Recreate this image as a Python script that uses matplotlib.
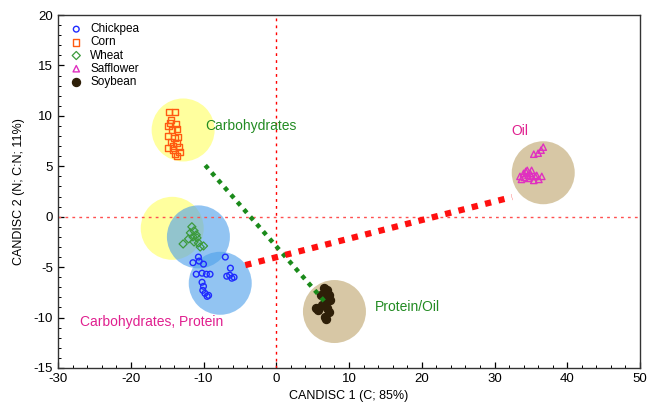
import matplotlib
matplotlib.use("Agg")
import matplotlib.pyplot as plt
from matplotlib.patches import Ellipse
from matplotlib.ticker import MultipleLocator

plt.rcParams["font.family"] = ["Liberation Sans", "DejaVu Sans"]
plt.rcParams["axes.unicode_minus"] = False

# ---- data ----
chickpea_x = [-11.45, -10.7, -10.0, -11.0, -10.2, -9.6, -9.1, -10.2, -10.0, -9.8, -9.3,
              -6.3, -6.4, -6.1, -7.0, -10.1, -9.5, -6.8, -5.8, -10.6]
chickpea_y = [-4.56, -4.0, -4.7, -5.7, -5.6, -5.7, -5.7, -6.5, -6.9, -7.6, -7.8,
              -5.1, -5.8, -6.1, -4.0, -7.3, -7.9, -5.9, -6.0, -4.4]
corn_x = [-14.7, -13.9, -14.5, -14.8, -14.3, -13.6, -14.9, -14.0, -13.5, -14.5, -13.7,
          -14.9, -14.2, -13.4, -13.9, -13.3, -14.6, -13.8, -14.2, -13.6]
corn_y = [10.4, 10.4, 9.6, 9.0, 8.6, 8.7, 8.0, 7.8, 7.9, 7.4, 7.3,
          6.8, 6.6, 6.9, 6.2, 6.4, 9.3, 9.2, 7.0, 6.0]
wheat_x = [-11.6, -11.3, -11.8, -11.0, -11.45, -10.9, -12.05, -12.8, -11.3, -10.7, -10.45, -10.0]
wheat_y = [-1.0, -1.4, -1.6, -1.8, -2.0, -2.1, -2.2, -2.7, -2.5, -2.6, -3.0, -2.9]
safflower_x = [35.4, 36.0, 36.4, 36.7, 33.5, 34.0, 34.3, 34.6, 34.9, 35.1, 34.1, 34.7,
               35.6, 36.1, 35.4, 33.7, 34.5, 35.1, 35.8, 36.5]
safflower_y = [6.2, 6.3, 6.6, 6.9, 4.0, 4.3, 4.5, 4.1, 4.3, 4.0, 3.9, 3.8,
               4.0, 3.7, 3.6, 3.7, 4.6, 4.6, 4.1, 4.0]
soybean_x = [6.5, 7.0, 6.2, 7.2, 6.7, 7.4, 6.3, 5.4, 5.8, 7.0, 7.2, 6.7, 6.8]
soybean_y = [-7.1, -7.3, -7.8, -7.8, -8.3, -8.3, -8.75, -9.1, -9.25, -9.1, -9.4, -9.9, -10.1]

# group shading circles (centres)
circle_x = [-12.8, -14.3, -10.7, -7.7, 8.0, 36.7]
circle_y = [8.6, -1.15, -2.0, -6.6, -9.4, 4.36]
circle_kind = ["yellow", "yellow", "blue", "blue", "tan", "tan"]

# loading vectors
green_line_x = [-9.76, 6.7]
green_line_y = [5.1, -8.45]
red_line_x = [-4.26, 32.4]
red_line_y = [-4.8, 1.95]

# annotations
ann_text = ["Carbohydrates", "Oil", "Protein/Oil", "Carbohydrates, Protein"]
ann_x = [-9.76, 32.3, 13.6, -27.0]
ann_y = [9.0, 8.5, -9.0, -10.4]
ann_color = ["#228B22", "#e0208f", "#228B22", "#e0208f"]

# ---- figure ----
W, H = 649, 408
fig = plt.figure(figsize=(W / 100, H / 100), dpi=100)
ax = fig.add_axes([58 / W, 40 / H, 582 / W, 353 / H])
ax.set_xlim(-30, 50)
ax.set_ylim(-15, 20)

# pixel scale for circles
px_x = 582 / 80.0
px_y = 353 / 35.0
r_px = 31.5
fills = {"yellow": (1.0, 1.0, 0.39), "blue": (0.31, 0.63, 0.92), "tan": (0.75, 0.65, 0.43)}
for cx, cy, k in zip(circle_x, circle_y, circle_kind):
    e = Ellipse((cx, cy), 2 * r_px / px_x, 2 * r_px / px_y, facecolor=fills[k],
                edgecolor="none", alpha=0.62, zorder=1)
    ax.add_patch(e)

# reference lines
ax.axvline(0, color="red", lw=1.0, ls=(0, (2, 3)), zorder=2)
ax.axhline(0, color="#ff5050", lw=1.0, ls=(0, (2, 3)), zorder=2)

ms = 17
ax.scatter(chickpea_x, chickpea_y, s=ms, marker="o", facecolors="none",
           edgecolors="#1f2bff", linewidths=1.0, zorder=4, label="Chickpea")
ax.scatter(corn_x, corn_y, s=ms + 4, marker="s", facecolors="none",
           edgecolors="#ff5a10", linewidths=1.0, zorder=4, label="Corn")
ax.scatter(wheat_x, wheat_y, s=ms, marker="D", facecolors="none",
           edgecolors="#3c9a3c", linewidths=0.9, zorder=4, label="Wheat")
ax.scatter(safflower_x, safflower_y, s=ms + 4, marker="^", facecolors="none",
           edgecolors="#e030c0", linewidths=1.0, zorder=4, label="Safflower")
ax.scatter(soybean_x, soybean_y, s=ms + 16, marker="o", facecolors="#2e1f08",
           edgecolors="#2e1f08", linewidths=1.0, zorder=4, label="Soybean")

# loading vectors
ax.plot(green_line_x, green_line_y, color="#1a8a1a", lw=3.2, ls=(0, (1, 1.2)),
        zorder=5, solid_capstyle="butt")
ax.plot(red_line_x, red_line_y, color="#ff1010", lw=4.5, ls=(0, (1, 1.2)),
        zorder=5)

for t, x, y, c in zip(ann_text, ann_x, ann_y, ann_color):
    ax.text(x, y, t, color=c, fontsize=10, va="center", ha="left", zorder=6)

# axes styling
ax.xaxis.set_major_locator(MultipleLocator(10))
ax.xaxis.set_minor_locator(MultipleLocator(2))
ax.yaxis.set_major_locator(MultipleLocator(5))
ax.yaxis.set_minor_locator(MultipleLocator(1))
ax.tick_params(which="both", direction="in", top=False, right=False, labelsize=9.5,
               colors="black")
ax.tick_params(which="major", length=4, width=0.9)
ax.tick_params(which="minor", length=2, width=0.7)
for s in ax.spines.values():
    s.set_color("#333333")
    s.set_linewidth(1.0)

ax.set_xlabel("CANDISC 1 (C; 85%)", fontsize=9, labelpad=4)
ax.set_ylabel("CANDISC 2 (N; C:N; 11%)", fontsize=9, labelpad=6)

leg = ax.legend(loc="upper left", frameon=False, fontsize=8.5, handletextpad=0.6,
                labelspacing=0.1, borderaxespad=0.3, handlelength=1.2,
                bbox_to_anchor=(0.005, 1.0))

fig.savefig("out.png", dpi=100)
